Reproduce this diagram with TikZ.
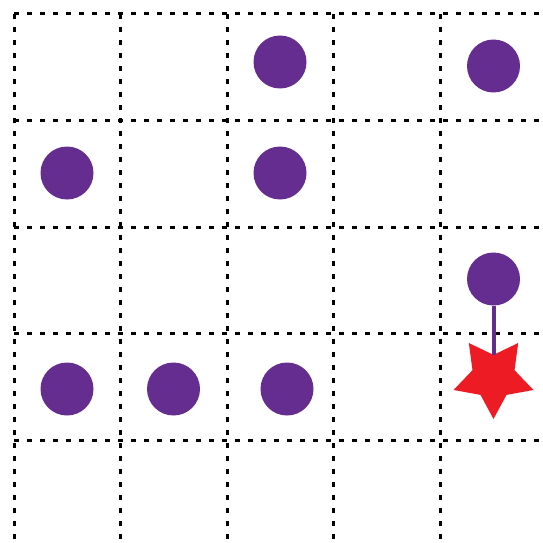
\documentclass[tikz,border=0pt]{standalone}
\usetikzlibrary{shapes.geometric}
\definecolor{dotpurple}{HTML}{662D91}
\definecolor{starred}{HTML}{ED1C24}
\tikzset{
  gridline/.style={black, line width=3pt, dash pattern=on 5pt off 8pt},
  dotnode/.style={circle, fill=dotpurple, draw=none, minimum size=53pt, inner sep=0pt},
  starnode/.style={star, star points=5, star point ratio=1.9, fill=starred, draw=none,
    minimum size=84pt, inner sep=0pt, shape border rotate=180},
  link/.style={dotpurple, line width=4pt}
}
\begin{document}
\begin{tikzpicture}[x=1pt,y=-1pt]
\useasboundingbox (0,0) rectangle (543,543);
\fill[white] (0,0) rectangle (543,543);
\foreach \v in {14,120.5,227,333.5,440}{
  \draw[gridline] (\v,14) -- (\v,543);
  \draw[gridline] (14,\v) -- (543,\v);
}
\node[dotnode] (d1) at (280,62) {};
\node[dotnode] (d2) at (493.5,66) {};
\node[dotnode] (d3) at (67,173) {};
\node[dotnode] (d4) at (280,173) {};
\node[dotnode] (d5) at (493.5,279) {};
\node[dotnode] (d6) at (67,389) {};
\node[dotnode] (d7) at (173.5,389) {};
\node[dotnode] (d8) at (287,389) {};
\node[starnode] (s) at (493.5,377) {};
\draw[link] (d5) -- (s.north);
\end{tikzpicture}
\end{document}
